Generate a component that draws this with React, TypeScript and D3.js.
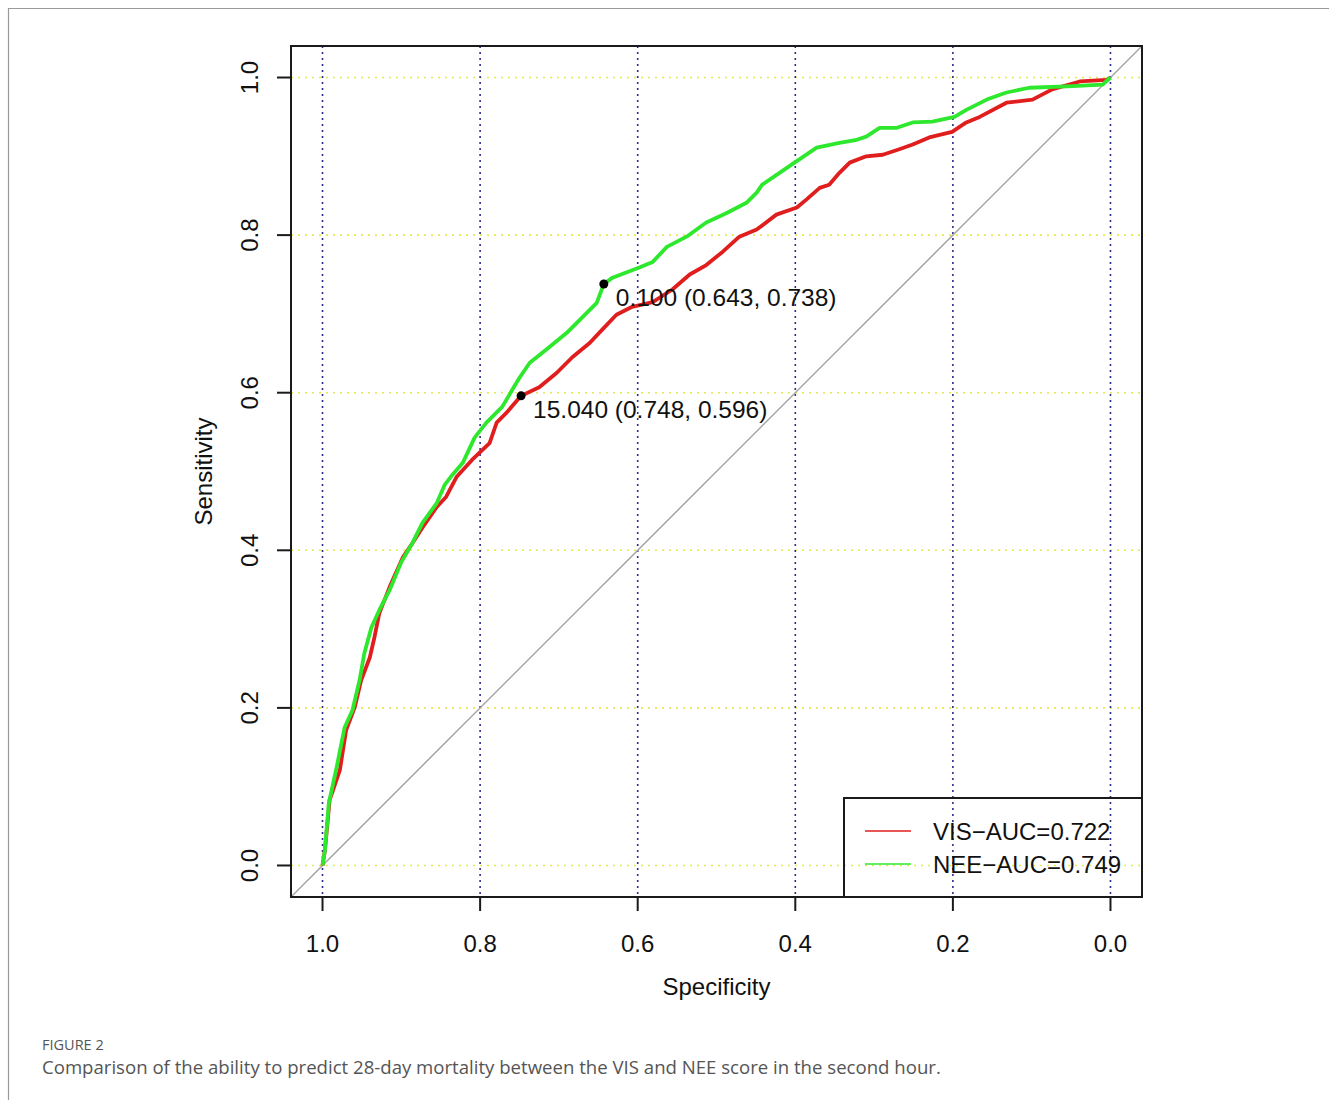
import React from 'react';
import * as d3 from 'd3';

// ROC points: [specificity, sensitivity]
const visRoc: [number, number][] = [
  [1.0, 0.0], [0.997, 0.019], [0.991, 0.083], [0.978, 0.121], [0.97, 0.172], [0.959, 0.201],
  [0.951, 0.235], [0.94, 0.264], [0.934, 0.29], [0.928, 0.32], [0.915, 0.353], [0.898, 0.391],
  [0.886, 0.409], [0.873, 0.429], [0.855, 0.455], [0.843, 0.468], [0.83, 0.493], [0.81, 0.515],
  [0.788, 0.536], [0.779, 0.562], [0.767, 0.574], [0.748, 0.596], [0.725, 0.607], [0.703, 0.625],
  [0.683, 0.645], [0.661, 0.663], [0.645, 0.68], [0.627, 0.699], [0.607, 0.709], [0.581, 0.715],
  [0.556, 0.731], [0.534, 0.75], [0.513, 0.762], [0.492, 0.779], [0.471, 0.798], [0.449, 0.807],
  [0.424, 0.826], [0.398, 0.835], [0.386, 0.845], [0.369, 0.86], [0.357, 0.864], [0.344, 0.879],
  [0.331, 0.892], [0.31, 0.9], [0.289, 0.902], [0.268, 0.909], [0.251, 0.915], [0.23, 0.924],
  [0.201, 0.931], [0.183, 0.943], [0.166, 0.95], [0.132, 0.968], [0.099, 0.972], [0.074, 0.985],
  [0.039, 0.995], [0.005, 0.997], [0.0, 1.0],
];

const neeRoc: [number, number][] = [
  [1.0, 0.0], [0.997, 0.019], [0.992, 0.079], [0.982, 0.125], [0.972, 0.175], [0.962, 0.197],
  [0.953, 0.235], [0.947, 0.269], [0.938, 0.302], [0.928, 0.324], [0.915, 0.349], [0.9, 0.385],
  [0.886, 0.409], [0.873, 0.435], [0.855, 0.46], [0.845, 0.483], [0.835, 0.496], [0.822, 0.511],
  [0.807, 0.543], [0.792, 0.562], [0.772, 0.582], [0.759, 0.604], [0.75, 0.619], [0.737, 0.638],
  [0.712, 0.658], [0.69, 0.676], [0.67, 0.696], [0.652, 0.714], [0.643, 0.738], [0.632, 0.746],
  [0.598, 0.759], [0.581, 0.766], [0.563, 0.785], [0.538, 0.798], [0.513, 0.816], [0.487, 0.828],
  [0.462, 0.841], [0.449, 0.854], [0.442, 0.864], [0.42, 0.879], [0.401, 0.892], [0.392, 0.898],
  [0.373, 0.911], [0.344, 0.917], [0.322, 0.921], [0.31, 0.925], [0.293, 0.936], [0.272, 0.936],
  [0.251, 0.943], [0.226, 0.944], [0.198, 0.95], [0.183, 0.959], [0.157, 0.972], [0.132, 0.981],
  [0.103, 0.987], [0.048, 0.989], [0.01, 0.991], [0.0, 1.0],
];

// best thresholds printed on the curves
const thresholds = [
  { label: '0.100 (0.643, 0.738)', spec: 0.643, sens: 0.738 },
  { label: '15.040 (0.748, 0.596)', spec: 0.748, sens: 0.596 },
];

const legendItems = [
  { label: 'VIS\u2212AUC=0.722', color: '#e01e1e' },
  { label: 'NEE\u2212AUC=0.749', color: '#2ee82e' },
];

const ticks = [0, 0.2, 0.4, 0.6, 0.8, 1.0];

const W = 1329, H = 1100;
const left = 291, right = 1142, top = 46, bottom = 897;
const font = '"Liberation Sans", Arial, sans-serif';
const capFont = '"Open Sans", "Noto Sans", sans-serif';

export default function App() {
  const x = d3.scaleLinear().domain([1.04, -0.04]).range([left, right]);
  const y = d3.scaleLinear().domain([-0.04, 1.04]).range([bottom, top]);
  const line = d3.line<[number, number]>().x((d) => x(d[0])).y((d) => y(d[1]));

  return (
    <svg width={W} height={H} style={{ position: 'absolute', left: 0, top: 0, background: '#fff' }}>
      {/* card border */}
      <line x1={8} y1={8.5} x2={W} y2={8.5} stroke="#999" strokeWidth={1.2} />
      <line x1={8.5} y1={8} x2={8.5} y2={H} stroke="#999" strokeWidth={1.2} />

      {/* grid */}
      {ticks.map((t) => (
        <line key={'gy' + t} x1={left} x2={right} y1={y(t)} y2={y(t)}
          stroke="#e2ea50" strokeWidth={1.6} strokeDasharray="2,5" />
      ))}
      {ticks.map((t) => (
        <line key={'gx' + t} x1={x(t)} x2={x(t)} y1={top} y2={bottom}
          stroke="#2c2c8c" strokeWidth={1.6} strokeDasharray="2,4" />
      ))}

      {/* chance diagonal */}
      <line x1={x(1.04)} y1={y(-0.04)} x2={x(-0.04)} y2={y(1.04)} stroke="#a6a6a6" strokeWidth={1.5} />

      {/* curves */}
      <path d={line(visRoc) ?? ''} fill="none" stroke={legendItems[0].color} strokeWidth={3.8} strokeLinejoin="round" />
      <path d={line(neeRoc) ?? ''} fill="none" stroke={legendItems[1].color} strokeWidth={3.8} strokeLinejoin="round" />

      {/* thresholds */}
      {thresholds.map((t) => (
        <g key={t.label}>
          <circle cx={x(t.spec)} cy={y(t.sens)} r={4.5} fill="#000" />
          <text x={x(t.spec) + 12} y={y(t.sens) + 22} fontFamily={font} fontSize={24.5} fill="#111">{t.label}</text>
        </g>
      ))}

      {/* plot box */}
      <rect x={left} y={top} width={right - left} height={bottom - top} fill="none" stroke="#1a1a1a" strokeWidth={2} />

      {/* x axis */}
      {ticks.map((t) => (
        <g key={'xt' + t}>
          <line x1={x(t)} x2={x(t)} y1={bottom} y2={bottom + 14} stroke="#1a1a1a" strokeWidth={2} />
          <text x={x(t)} y={952} textAnchor="middle" fontFamily={font} fontSize={24} fill="#111">{t.toFixed(1)}</text>
        </g>
      ))}
      <text x={(left + right) / 2} y={995} textAnchor="middle" fontFamily={font} fontSize={24} fill="#111">Specificity</text>

      {/* y axis */}
      {ticks.map((t) => (
        <g key={'yt' + t}>
          <line x1={left - 14} x2={left} y1={y(t)} y2={y(t)} stroke="#1a1a1a" strokeWidth={2} />
          <text transform={`translate(258,${y(t)}) rotate(-90)`} textAnchor="middle" fontFamily={font} fontSize={24} fill="#111">{t.toFixed(1)}</text>
        </g>
      ))}
      <text transform={`translate(212,${(top + bottom) / 2}) rotate(-90)`} textAnchor="middle" fontFamily={font} fontSize={24} fill="#111">Sensitivity</text>

      {/* legend */}
      <rect x={844} y={798} width={right - 844} height={bottom - 798} fill="none" stroke="#1a1a1a" strokeWidth={2} />
      {legendItems.map((d, i) => (
        <g key={d.label}>
          <line x1={865} x2={911} y1={831 + i * 33} y2={831 + i * 33} stroke={d.color} strokeWidth={1.6} />
          <text x={933} y={840 + i * 33} fontFamily={font} fontSize={24} fill="#111">{d.label}</text>
        </g>
      ))}

      {/* caption */}
      <text x={42} y={1050} fontFamily={capFont} fontSize={14.5} fill="#555">FIGURE 2</text>
      <text x={42} y={1074} fontFamily={capFont} fontSize={18.6} fill="#555">
        Comparison of the ability to predict 28-day mortality between the VIS and NEE score in the second hour.
      </text>
    </svg>
  );
}
